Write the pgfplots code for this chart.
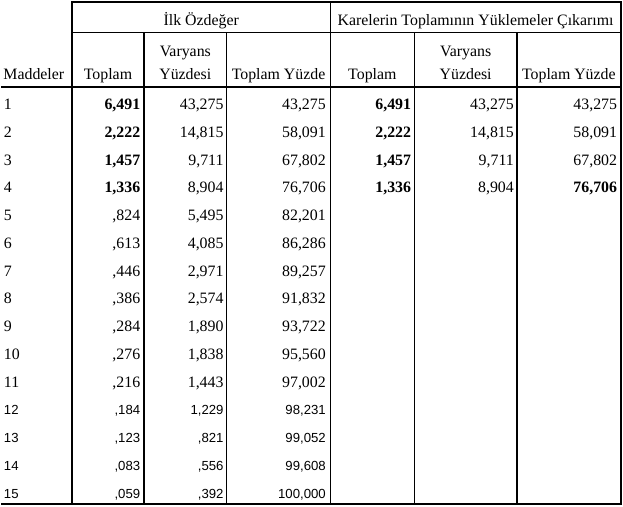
\documentclass[border=0pt]{standalone}
\usepackage{pgfplots}
\pgfplotsset{compat=1.18}
\usepackage{pgfplotstable}
\usepackage{fontspec}
\setmainfont{Liberation Serif}
\newfontfamily\arialf{Liberation Sans}
\newcommand\serif{\fontsize{15.9}{18}\selectfont}
\newcommand\serifb{\fontsize{15.9}{18}\selectfont\bfseries}
\newcommand\sans{\arialf\fontsize{13.2}{16}\selectfont}

% Ilk Ozdeger columns
\pgfplotstableread{
row top var cum
1 6,491 43,275 43,275
2 2,222 14,815 58,091
3 1,457 9,711 67,802
4 1,336 8,904 76,706
5 ,824 5,495 82,201
6 ,613 4,085 86,286
7 ,446 2,971 89,257
8 ,386 2,574 91,832
9 ,284 1,890 93,722
10 ,276 1,838 95,560
11 ,216 1,443 97,002
12 ,184 1,229 98,231
13 ,123 ,821 99,052
14 ,083 ,556 99,608
15 ,059 ,392 100,000
}\ilk

% Karelerin Toplaminin Yuklemeler Cikarimi columns
\pgfplotstableread{
row top var cum
1 6,491 43,275 43,275
2 2,222 14,815 58,091
3 1,457 9,711 67,802
4 1,336 8,904 76,706
}\kare

\pgfplotsset{
  cellR/.style={draw=none, mark=none, point meta=explicit symbolic,
    nodes near coords={\pgfplotspointmeta},
    nodes near coords style={anchor=base east, inner sep=0pt, font=#1}},
  cellL/.style={draw=none, mark=none, point meta=explicit symbolic,
    nodes near coords={\pgfplotspointmeta},
    nodes near coords style={anchor=base west, inner sep=0pt, font=#1}},
  cellC/.style={draw=none, mark=none, point meta=explicit symbolic,
    nodes near coords={\pgfplotspointmeta},
    nodes near coords style={anchor=base, inner sep=0pt, font=#1}},
  rule/.style={black, mark=none, line width=#1},
}

\begin{document}
\begin{tikzpicture}
\begin{axis}[width=623pt, height=508pt, scale only axis,
  xmin=0, xmax=623, ymin=0, ymax=508, y dir=reverse,
  hide axis, clip=false]

% rules
\addplot[rule=1.3pt] coordinates {(71,2) (621,2)};
\addplot[rule=1.3pt] coordinates {(71,32.5) (621,32.5)};
\addplot[rule=2pt] coordinates {(0,87) (621,87)};
\addplot[rule=2.5pt] coordinates {(0,505) (622,505)};
\addplot[rule=2.8pt] coordinates {(71,1.4) (71,506)};
\addplot[rule=1.3pt] coordinates {(143,32.5) (143,505)};
\addplot[rule=1.3pt] coordinates {(226,32.5) (226,505)};
\addplot[rule=1.5pt] coordinates {(330,1.4) (330,505)};
\addplot[rule=1.3pt] coordinates {(414,32.5) (414,505)};
\addplot[rule=1.3pt] coordinates {(517,32.5) (517,505)};
\addplot[rule=1.8pt] coordinates {(621,1.4) (621,506)};

% headers
\addplot[cellC=\serif] coordinates {
  (200.5,26)[İlk Özdeğer]
  (475.5,26)[Karelerin Toplamının Yüklemeler Çıkarımı]
  (107,80)[Toplam]
  (184.5,57)[Varyans]
  (184.5,80)[Yüzdesi]
  (278,80)[Toplam Yüzde]
  (372,80)[Toplam]
  (465.5,57)[Varyans]
  (465.5,80)[Yüzdesi]
  (569,80)[Toplam Yüzde]};
\addplot[cellL=\serif] coordinates {(2,80)[Maddeler]};

% row labels
\addplot[cellL=\serif, skip coords between index={11}{15}]
  table[x expr=2.5, y expr={110+27.8*(\thisrow{row}-1)}, meta=row]{\ilk};
\addplot[cellL=\sans, skip coords between index={0}{11}]
  table[x expr=2.5, y expr={110+27.8*(\thisrow{row}-1)}, meta=row]{\ilk};

% Ilk Ozdeger: Toplam
\addplot[cellR=\serifb, skip coords between index={4}{15}]
  table[x expr=139.5, y expr={110+27.8*(\thisrow{row}-1)}, meta=top]{\ilk};
\addplot[cellR=\serif, skip coords between index={0}{4}, skip coords between index={11}{15}]
  table[x expr=139.5, y expr={110+27.8*(\thisrow{row}-1)}, meta=top]{\ilk};
\addplot[cellR=\sans, skip coords between index={0}{11}]
  table[x expr=139.5, y expr={110+27.8*(\thisrow{row}-1)}, meta=top]{\ilk};
% Varyans Yuzdesi
\addplot[cellR=\serif, skip coords between index={11}{15}]
  table[x expr=223, y expr={110+27.8*(\thisrow{row}-1)}, meta=var]{\ilk};
\addplot[cellR=\sans, skip coords between index={0}{11}]
  table[x expr=223, y expr={110+27.8*(\thisrow{row}-1)}, meta=var]{\ilk};
% Toplam Yuzde
\addplot[cellR=\serif, skip coords between index={11}{15}]
  table[x expr=325.5, y expr={110+27.8*(\thisrow{row}-1)}, meta=cum]{\ilk};
\addplot[cellR=\sans, skip coords between index={0}{11}]
  table[x expr=325.5, y expr={110+27.8*(\thisrow{row}-1)}, meta=cum]{\ilk};

% Karelerin ...: Toplam (bold)
\addplot[cellR=\serifb]
  table[x expr=411, y expr={110+27.8*(\thisrow{row}-1)}, meta=top]{\kare};
\addplot[cellR=\serif]
  table[x expr=514, y expr={110+27.8*(\thisrow{row}-1)}, meta=var]{\kare};
\addplot[cellR=\serif, skip coords between index={3}{4}]
  table[x expr=617.5, y expr={110+27.8*(\thisrow{row}-1)}, meta=cum]{\kare};
\addplot[cellR=\serifb, skip coords between index={0}{3}]
  table[x expr=617.5, y expr={110+27.8*(\thisrow{row}-1)}, meta=cum]{\kare};

\end{axis}
\end{tikzpicture}
\end{document}
